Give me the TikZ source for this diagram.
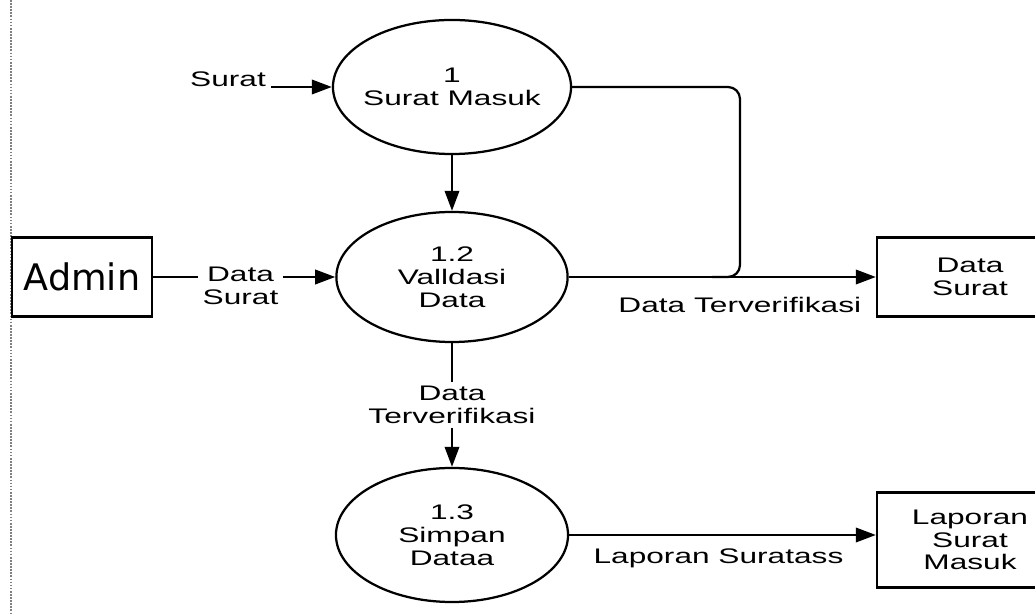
\documentclass[tikz,border=0pt]{standalone}
\usepackage{fontspec}
\setmainfont[FakeStretch=1.5]{Liberation Sans}
\newfontfamily\adminfont{DejaVu Sans}
\usetikzlibrary{shapes.geometric,arrows.meta}

\begin{document}
\begin{tikzpicture}[x=0.025cm, y=-0.025cm,
    font=\fontsize{15}{16.2}\selectfont,
    proc/.style={draw, ellipse, line width=1.6pt, inner xsep=-0.15cm, align=center},
    ent/.style={draw, rectangle, line width=1.6pt, align=center},
    flow/.style={line width=1.6pt, -{Triangle[length=0.5cm, width=0.36cm]}},
    lbl/.style={align=center, fill=white}]
    \useasboundingbox (0,0) rectangle (1035,615);
    \draw[gray, densely dotted, line width=1.2pt] (11,0) -- (11,615);

    % Processes
    \node[proc, minimum width=5.95cm, minimum height=3.35cm] (p1) at (452,87) {1\\Surat Masuk};
    \node[proc, minimum width=5.78cm, minimum height=3.25cm] (p2) at (452,277) {1.2\\Valldasi\\Data};
    \node[proc, minimum width=5.8cm, minimum height=3.35cm] (p3) at (452,535) {1.3\\Simpan\\Dataa};

    % Entities
    \node[ent, minimum width=3.5cm, minimum height=1.98cm, font=\adminfont\fontsize{26}{30}\selectfont] (admin) at (82,277) {Admin};
    \node[ent, minimum width=4.65cm, minimum height=1.98cm] (dsurat) at (970,277) {Data\\Surat};
    \node[ent, minimum width=4.65cm, minimum height=2.38cm] (lapor) at (970,540) {Laporan\\Surat\\Masuk};

    % Source
    \node[anchor=base] (surat) at (228,87) {Surat};

    % Edges
    \draw[flow] (surat.base east) -- (p1.west);
    \draw[flow] (p1) -- (p2);
    \draw[flow] (admin) -- (p2) node[lbl, pos=0.48, yshift=-0.225cm] {Data\\Surat};
    \draw[flow] (p2) -- (dsurat) node[pos=0.557, below=0.36cm] {Data Terverifikasi};

    % Merge into the same flow
    \coordinate (bend) at (740,277);
    \coordinate (join) at (712,277);
    \draw[line width=1.6pt, rounded corners=0.3cm] (p1.east) -| (bend) -- (join);

    \draw[flow] (p2) -- (p3) node[lbl, midway] {Data\\Terverifikasi};
    \draw[flow] (p3.east) -- (p3.east -| lapor.west) node[midway, below=0.2cm, xshift=-0.1cm] {Laporan Suratass};

\end{tikzpicture}
\end{document}
